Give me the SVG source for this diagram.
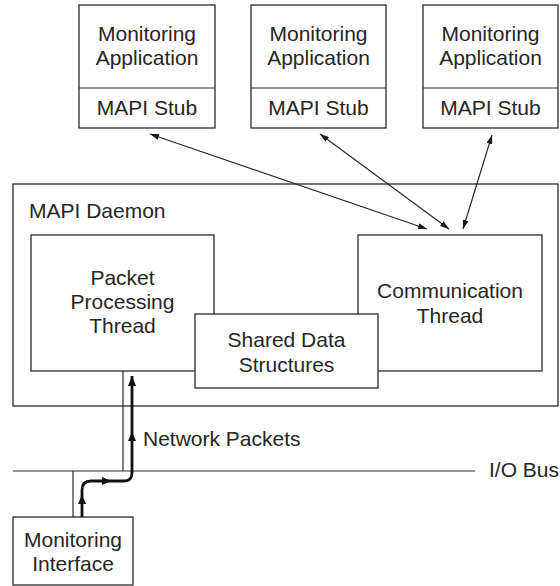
<svg xmlns="http://www.w3.org/2000/svg" width="560" height="586" viewBox="0 0 560 586">
  <style>
    .box { fill: #fff; stroke: #2a2a2a; stroke-width: 1.3; }
    .ln { fill: none; stroke: #2a2a2a; stroke-width: 1.2; }
    .thick { fill: none; stroke: #111; stroke-width: 2.8; }
    text { font-family: "Liberation Sans", Arial, Helvetica, sans-serif; font-size: 21px; fill: #262626; }
    .c { text-anchor: middle; }
  </style>
  <defs>
    <marker id="ah" viewBox="0 0 9 6" refX="9" refY="3" markerWidth="9" markerHeight="6" markerUnits="userSpaceOnUse" orient="auto-start-reverse">
      <path d="M0,0 L9,3 L0,6 z" fill="#1a1a1a"/>
    </marker>
    <marker id="ahk" viewBox="0 0 10 8" refX="10" refY="4" markerWidth="10" markerHeight="8" markerUnits="userSpaceOnUse" orient="auto">
      <path d="M0,0 L10,4 L0,8 z" fill="#111"/>
    </marker>
  </defs>

  <!-- daemon container -->
  <g id="daemon">
    <rect class="box" x="13" y="184" width="545" height="222"/>
    <text x="29" y="218">MAPI Daemon</text>
  </g>

  <!-- client applications -->
  <g id="app1">
    <rect class="box" x="79" y="5" width="136" height="123"/>
    <line class="ln" x1="79" y1="88" x2="215" y2="88"/>
    <text class="c" x="147" y="41">Monitoring</text>
    <text class="c" x="147" y="65">Application</text>
    <text class="c" x="147" y="115">MAPI Stub</text>
  </g>
  <g id="app2">
    <rect class="box" x="251" y="5" width="135" height="123"/>
    <line class="ln" x1="251" y1="88" x2="386" y2="88"/>
    <text class="c" x="318.5" y="41">Monitoring</text>
    <text class="c" x="318.5" y="65">Application</text>
    <text class="c" x="318.5" y="115">MAPI Stub</text>
  </g>
  <g id="app3">
    <rect class="box" x="423" y="5" width="135" height="123"/>
    <line class="ln" x1="423" y1="88" x2="558" y2="88"/>
    <text class="c" x="490.5" y="41">Monitoring</text>
    <text class="c" x="490.5" y="65">Application</text>
    <text class="c" x="490.5" y="115">MAPI Stub</text>
  </g>

  <!-- daemon threads -->
  <g id="packet-thread">
    <rect class="box" x="31" y="235" width="183" height="136"/>
    <text class="c" x="122.5" y="285">Packet</text>
    <text class="c" x="122.5" y="309">Processing</text>
    <text class="c" x="122.5" y="333">Thread</text>
  </g>
  <g id="comm-thread">
    <rect class="box" x="358" y="235" width="184" height="136"/>
    <text class="c" x="450" y="298">Communication</text>
    <text class="c" x="450" y="323">Thread</text>
  </g>
  <g id="shared">
    <rect class="box" x="195" y="314" width="183" height="74"/>
    <text class="c" x="286.5" y="347">Shared Data</text>
    <text class="c" x="286.5" y="372">Structures</text>
  </g>

  <!-- hardware -->
  <g id="iface">
    <rect class="box" x="13" y="517" width="120" height="68"/>
    <text class="c" x="73" y="547">Monitoring</text>
    <text class="c" x="73" y="571">Interface</text>
  </g>
  <g id="bus">
    <line class="ln" x1="13" y1="471" x2="475" y2="471"/>
    <text x="489" y="477">I/O Bus</text>
  </g>

  <g id="connectors">
    <line class="ln" marker-start="url(#ah)" marker-end="url(#ah)" x1="150" y1="134" x2="427" y2="229"/>
    <line class="ln" marker-start="url(#ah)" marker-end="url(#ah)" x1="320" y1="134" x2="449" y2="229"/>
    <line class="ln" marker-start="url(#ah)" marker-end="url(#ah)" x1="492" y1="135" x2="463" y2="229"/>

    <!-- bus attachments -->
    <line class="ln" x1="123" y1="371" x2="123" y2="471"/>
    <line class="ln" x1="73" y1="471" x2="73" y2="517"/>

    <!-- packet path -->
    <path class="thick" marker-end="url(#ahk)" d="M82,517 V490 Q82,481 91,481 H124 Q132,481 132,473 V376"/>
    <path d="M82,495 L78,504 L86,504 z" fill="#111"/>
    <path d="M111,481 L102,477 L102,485 z" fill="#111"/>
    <path d="M132,432 L128,441 L136,441 z" fill="#111"/>
    <text x="143" y="446">Network Packets</text>
  </g>
</svg>
